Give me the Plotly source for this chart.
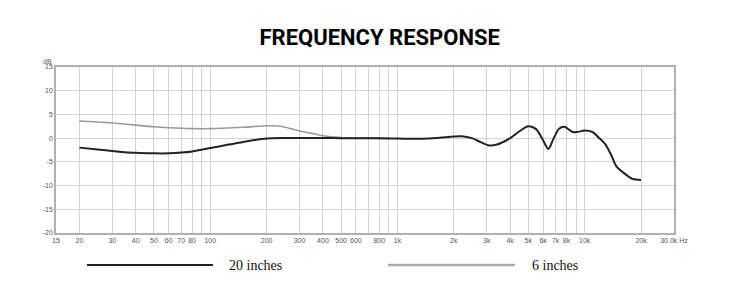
import plotly.graph_objects as go
import math

# 20 inches (black)
freq_20in = [20, 25, 30, 40, 50, 60, 70, 80, 100, 120, 150, 200, 250, 300, 400, 500, 700, 900,
             1200, 1600, 2000, 2200, 2500, 2800, 3100, 3400, 4000, 4500, 5000, 5500, 5950, 6400,
             6800, 7300, 7800, 8600, 9100, 10000, 11000, 11900, 12900, 13800, 14800, 15900, 18000, 20000]
db_20in = [-2.0, -2.4, -2.7, -3.1, -3.2, -3.2, -3.05, -2.8, -2.1, -1.5, -0.8, -0.05, 0.05, 0.05, 0.05, 0.0, 0.0, -0.05,
           -0.15, 0.05, 0.35, 0.4, 0.0, -0.9, -1.55, -1.35, 0.0, 1.5, 2.5, 1.9, -0.2, -2.3,
           -0.2, 2.0, 2.4, 1.3, 1.3, 1.6, 1.3, 0.1, -1.3, -3.4, -6.0, -7.1, -8.6, -8.8]

# 6 inches (gray)
freq_6in = [20, 25, 30, 40, 50, 60, 80, 100, 150, 200, 230, 270, 300, 350, 400, 500, 700, 900]
db_6in = [3.6, 3.4, 3.2, 2.75, 2.4, 2.2, 2.0, 2.0, 2.3, 2.6, 2.55, 2.0, 1.5, 1.0, 0.5, 0.1, 0.0, -0.05]

x_grid = [20, 30, 40, 50, 60, 70, 80, 90, 100, 200, 300, 400, 500, 600, 700, 800, 900, 1000,
          2000, 3000, 4000, 5000, 6000, 7000, 8000, 9000, 10000, 20000, 30000]
x_labels = ["20", "30", "40", "50", "60", "70", "80", "", "100", "200", "300", "400", "500", "600", "",
            "800", "", "1k", "2k", "3k", "4k", "5k", "6k", "7k", "8k", "", "10k", "20k", "30.0k Hz"]
x_ticks_all = [15] + x_grid
x_labels_all = ["15"] + x_labels

y_ticks = [-20, -15, -10, -5, 0, 5, 10, 15]
y_labels = ["-20", "-15", "-10", "-5", "0", "5", "10", "15"]

series_names = ["20 inches", "6 inches"]

fig = go.Figure()
fig.add_trace(go.Scatter(x=freq_6in, y=db_6in, mode="lines", name=series_names[1],
                         line=dict(color="#9a9a9a", width=1.6, shape="spline", smoothing=0.8)))
fig.add_trace(go.Scatter(x=freq_20in, y=db_20in, mode="lines", name=series_names[0],
                         line=dict(color="#222222", width=2, shape="spline", smoothing=0.8)))

fig.update_layout(
    width=733, height=287,
    margin=dict(l=56, r=59, t=67, b=54),
    paper_bgcolor="white", plot_bgcolor="white",
    showlegend=False,
    title=dict(text="<b>FREQUENCY RESPONSE</b>", x=0.518, xanchor="center", y=0.87, yanchor="middle",
               font=dict(family="Roboto", size=22, color="#000000")),
    xaxis=dict(type="log", range=[math.log10(15), math.log10(30000)],
               tickmode="array", tickvals=x_ticks_all, ticktext=x_labels_all,
               showgrid=True, gridcolor="#d4d4d4", gridwidth=1,
               showline=True, linecolor="#b0b0b0", linewidth=1.5, mirror=True,
               ticks="", tickfont=dict(family="Liberation Sans", size=7, color="#555555"),
               zeroline=False),
    yaxis=dict(range=[-20, 15], tickmode="array", tickvals=y_ticks, ticktext=y_labels,
               showgrid=True, gridcolor="#d4d4d4", gridwidth=1,
               showline=True, linecolor="#b0b0b0", linewidth=1.5, mirror=True,
               ticks="", tickfont=dict(family="Liberation Sans", size=7, color="#555555"),
               zeroline=False),
)

# "dB" unit label
fig.add_annotation(text="dB", xref="paper", yref="paper", x=-0.003, y=1.0, xanchor="right", yanchor="bottom",
                   showarrow=False, font=dict(family="Liberation Sans", size=7, color="#555555"))

# custom legend below the chart
legend_items = [
    dict(name=series_names[0], color="#222222", width=2.2, x0=87, x1=213, tx=227),
    dict(name=series_names[1], color="#aaaaaa", width=2.5, x0=388, x1=515, tx=530),
]
pw = 733 - 56 - 59
ph = 287 - 67 - 54
for it in legend_items:
    ly = (233 - 265) / ph
    fig.add_shape(type="line", xref="paper", yref="paper",
                  x0=(it["x0"] - 56) / pw, x1=(it["x1"] - 56) / pw, y0=ly, y1=ly,
                  line=dict(color=it["color"], width=it["width"]))
    fig.add_annotation(text=it["name"], xref="paper", yref="paper", x=(it["tx"] - 56) / pw, y=ly,
                       xanchor="left", yanchor="middle", showarrow=False,
                       font=dict(family="Liberation Serif", size=14, color="#111111"))

fig.write_html("out.html")
